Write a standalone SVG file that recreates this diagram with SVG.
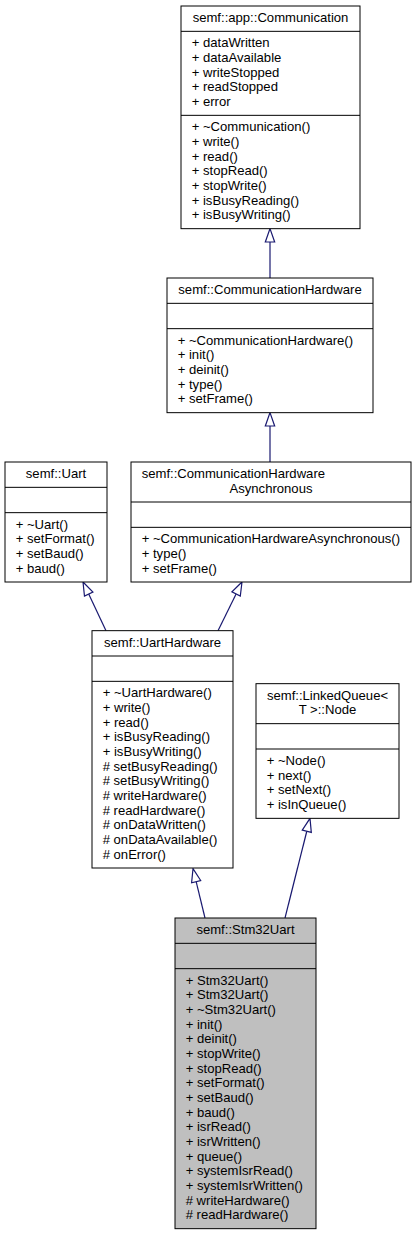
<svg xmlns="http://www.w3.org/2000/svg" width="416" height="1235" viewBox="0 0 416 1235">
<style>
text{font-family:"Liberation Sans",Arial,sans-serif;font-size:13.1px;fill:#000}
.t{text-anchor:middle}
.b{fill:#fff;stroke:#000;stroke-width:1}
.g{fill:#bfbfbf;stroke:#000;stroke-width:1}
.s{stroke:#000;stroke-width:1;fill:none}
.e{stroke:#191970;stroke-width:1.2;fill:none}
.a{stroke:#191970;stroke-width:1.2;fill:#fff}
</style>
<rect width="416" height="1235" fill="#fff"/>
<g id="connectors">
<line class="e" x1="270" y1="278" x2="270" y2="242"/>
<polygon class="a" points="270,228.67 274.67,242 265.33,242"/>
<line class="e" x1="270" y1="462" x2="270" y2="426"/>
<polygon class="a" points="270,412.67 274.67,426 265.33,426"/>
<line class="e" x1="106" y1="630.67" x2="88.7" y2="594.05"/>
<polygon class="a" points="83,582 92.92,592.05 84.48,596.05"/>
<line class="e" x1="218" y1="630.67" x2="236.1" y2="593.95"/>
<polygon class="a" points="242,582 240.29,596.01 231.91,591.89"/>
<line class="e" x1="205" y1="918" x2="196.15" y2="881.62"/>
<polygon class="a" points="193,868.67 200.69,880.52 191.61,882.72"/>
<line class="e" x1="285" y1="918" x2="306.78" y2="831.27"/>
<polygon class="a" points="310,818.33 311.31,832.4 302.25,830.14"/>
</g>
<g id="node-communication">
<rect class="b" x="181" y="6" width="179" height="222.67"/>
<line class="s" x1="181" y1="31.33" x2="360" y2="31.33"/>
<line class="s" x1="181" y1="115.33" x2="360" y2="115.33"/>
<text class="t" x="270.5" y="22">semf::app::Communication</text>
<text x="191.67" y="47.33">+ dataWritten</text>
<text x="191.67" y="62">+ dataAvailable</text>
<text x="191.67" y="76.67">+ writeStopped</text>
<text x="191.67" y="91.33">+ readStopped</text>
<text x="191.67" y="106">+ error</text>
<text x="191.67" y="131.33">+ ~Communication()</text>
<text x="191.67" y="146">+ write()</text>
<text x="191.67" y="160.67">+ read()</text>
<text x="191.67" y="175.33">+ stopRead()</text>
<text x="191.67" y="190">+ stopWrite()</text>
<text x="191.67" y="204.67">+ isBusyReading()</text>
<text x="191.67" y="219.33">+ isBusyWriting()</text>
</g>
<g id="node-communicationhardware">
<rect class="b" x="167" y="278" width="206" height="134.67"/>
<line class="s" x1="167" y1="303.33" x2="373" y2="303.33"/>
<line class="s" x1="167" y1="328.67" x2="373" y2="328.67"/>
<text class="t" x="270" y="294">semf::CommunicationHardware</text>
<text x="177.67" y="344.67">+ ~CommunicationHardware()</text>
<text x="177.67" y="359.33">+ init()</text>
<text x="177.67" y="374">+ deinit()</text>
<text x="177.67" y="388.67">+ type()</text>
<text x="177.67" y="403.33">+ setFrame()</text>
</g>
<g id="node-uart">
<rect class="b" x="5" y="462" width="102" height="120"/>
<line class="s" x1="5" y1="487.33" x2="107" y2="487.33"/>
<line class="s" x1="5" y1="512.67" x2="107" y2="512.67"/>
<text class="t" x="56" y="478">semf::Uart</text>
<text x="15.67" y="528.67">+ ~Uart()</text>
<text x="15.67" y="543.33">+ setFormat()</text>
<text x="15.67" y="558">+ setBaud()</text>
<text x="15.67" y="572.67">+ baud()</text>
</g>
<g id="node-communicationhardwareasynchronous">
<rect class="b" x="131" y="462" width="280" height="120"/>
<line class="s" x1="131" y1="502" x2="411" y2="502"/>
<line class="s" x1="131" y1="527.33" x2="411" y2="527.33"/>
<text x="141.67" y="478">semf::CommunicationHardware</text>
<text class="t" x="271" y="492.67">Asynchronous</text>
<text x="141.67" y="543.33">+ ~CommunicationHardwareAsynchronous()</text>
<text x="141.67" y="558">+ type()</text>
<text x="141.67" y="572.67">+ setFrame()</text>
</g>
<g id="node-uarthardware">
<rect class="b" x="92" y="630.67" width="141" height="237.33"/>
<line class="s" x1="92" y1="656" x2="233" y2="656"/>
<line class="s" x1="92" y1="681.33" x2="233" y2="681.33"/>
<text class="t" x="162.5" y="646.67">semf::UartHardware</text>
<text x="102.67" y="697.33">+ ~UartHardware()</text>
<text x="102.67" y="712">+ write()</text>
<text x="102.67" y="726.67">+ read()</text>
<text x="102.67" y="741.33">+ isBusyReading()</text>
<text x="102.67" y="756">+ isBusyWriting()</text>
<text x="102.67" y="770.67"># setBusyReading()</text>
<text x="102.67" y="785.33"># setBusyWriting()</text>
<text x="102.67" y="800"># writeHardware()</text>
<text x="102.67" y="814.67"># readHardware()</text>
<text x="102.67" y="829.33"># onDataWritten()</text>
<text x="102.67" y="844"># onDataAvailable()</text>
<text x="102.67" y="858.67"># onError()</text>
</g>
<g id="node-linkedqueue-node">
<rect class="b" x="256" y="683.67" width="143" height="134.67"/>
<line class="s" x1="256" y1="723.67" x2="399" y2="723.67"/>
<line class="s" x1="256" y1="749" x2="399" y2="749"/>
<text class="t" x="327.5" y="699.67">semf::LinkedQueue&lt;</text>
<text class="t" x="327.5" y="714.33">T &gt;::Node</text>
<text x="266.67" y="765">+ ~Node()</text>
<text x="266.67" y="779.67">+ next()</text>
<text x="266.67" y="794.33">+ setNext()</text>
<text x="266.67" y="809">+ isInQueue()</text>
</g>
<g id="node-stm32uart">
<rect class="g" x="175" y="918" width="141" height="310.67"/>
<line class="s" x1="175" y1="943.33" x2="316" y2="943.33"/>
<line class="s" x1="175" y1="968.67" x2="316" y2="968.67"/>
<text class="t" x="245.5" y="934">semf::Stm32Uart</text>
<text x="185.67" y="984.67">+ Stm32Uart()</text>
<text x="185.67" y="999.33">+ Stm32Uart()</text>
<text x="185.67" y="1014">+ ~Stm32Uart()</text>
<text x="185.67" y="1028.67">+ init()</text>
<text x="185.67" y="1043.33">+ deinit()</text>
<text x="185.67" y="1058">+ stopWrite()</text>
<text x="185.67" y="1072.67">+ stopRead()</text>
<text x="185.67" y="1087.33">+ setFormat()</text>
<text x="185.67" y="1102">+ setBaud()</text>
<text x="185.67" y="1116.67">+ baud()</text>
<text x="185.67" y="1131.33">+ isrRead()</text>
<text x="185.67" y="1146">+ isrWritten()</text>
<text x="185.67" y="1160.67">+ queue()</text>
<text x="185.67" y="1175.33">+ systemIsrRead()</text>
<text x="185.67" y="1190">+ systemIsrWritten()</text>
<text x="185.67" y="1204.67"># writeHardware()</text>
<text x="185.67" y="1219.33"># readHardware()</text>
</g>
</svg>
